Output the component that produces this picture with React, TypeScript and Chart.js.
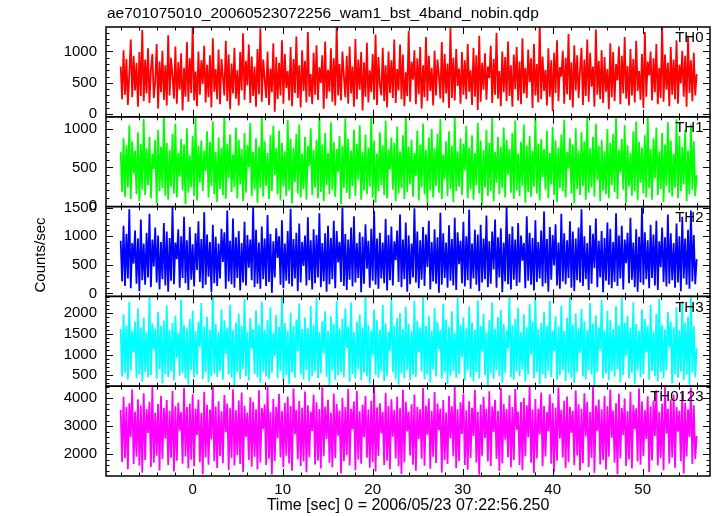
import { useEffect, useRef } from "react";
import { Chart, registerables } from "chart.js";

Chart.register(...registerables);

const TITLE = "ae701075010_20060523072256_wam1_bst_4band_nobin.qdp";
const X_TITLE = "Time [sec] 0 = 2006/05/23 07:22:56.250";
const Y_TITLE = "Counts/sec";
const BANDS = ["TH0", "TH1", "TH2", "TH3", "TH0123"];
const COLORS = ["#ff0000", "#00ff00", "#0000ff", "#00ffff", "#ff00ff"];
const T_START = -8.0;
const T_STEP = 0.16;
const X_MIN = -9.63;
const X_MAX = 57.48;
const X_MAJOR = 10;
const X_MINOR = 2;
const Y_MIN = [-40, -10, -52, 234, 1214];
const Y_MAX = [1390, 1160, 1517, 2411, 4429];
const Y_MAJOR = [500, 500, 500, 500, 1000];
const Y_MINOR = [100, 100, 100, 100, 200];

const TH0 = [
  760, 240, 1020, 310, 880, 150, 640, 1190, 270, 930, 380, 820, 120, 990, 290, 1340,
  210, 870, 330, 1050, 180, 710, 960, 260, 520, 1120, 90, 840, 350, 1010, 230, 780,
  140, 1260, 300, 900, 610, 250, 1080, 170, 830, 390, 970, 60, 740, 280, 1150, 200,
  890, 340, 1400, 220, 680, 130, 1000, 310, 860, 480, 1090, 190, 790, 270, 940, 110,
  1210, 360, 720, 240, 1030, 160, 880, 590, 300, 1170, 210, 950, 80, 810, 330, 1060,
  250, 700, 140, 990, 380, 1290, 230, 850, 460, 1110, 180, 920, 290, 760, 120, 1040,
  320, 1370, 200, 870, 560, 260, 1000, 150, 730, 350, 1130, 40, 910, 240, 820, 300,
  1180, 170, 960, 420, 690, 220, 1070, 130, 880, 340, 1240, 260, 780, 110, 1020, 370,
  850, 190, 1310, 280, 640, 160, 980, 310, 1100, 230, 750, 500, 940, 90, 1160, 250,
  710, 360, 1050, 200, 890, 140, 1420, 300, 800, 220, 1000, 610, 270, 930, 170, 1080,
  330, 760, 120, 1200, 240, 870, 390, 990, 60, 830, 280, 1140, 190, 700, 350, 960,
  230, 1270, 150, 910, 470, 300, 1060, 210, 780, 110, 1000, 340, 860, 260, 1190, 180,
  720, 380, 1110, 240, 950, 130, 670, 290, 1330, 200, 840, 550, 1020, 160, 890, 320,
  1070, 90, 780, 270, 1230, 210, 930, 370, 740, 140, 1010, 300, 870, 620, 250, 1150,
  190, 960, 330, 810, 100, 1380, 260, 900, 220, 1040, 450, 730, 170, 990, 310, 860,
  240, 1120, 360, 700, 150, 1060, 280, 940, 70, 1250, 200, 820, 390, 970, 230, 760,
  580, 1090, 180, 880, 310, 1300, 250, 690, 130, 1000, 350, 910, 210, 1160, 290, 780,
  120, 950, 400, 1070, 220, 840, 160, 1210, 330, 740, 260, 1030, 510, 890, 100, 1120,
  300, 800, 190, 1440, 240, 920, 370, 710, 140, 1050, 280, 860, 50, 980, 340, 1180,
  210, 750, 600, 1010, 170, 900, 320, 1280, 230, 830, 110, 1100, 380, 940, 260, 700,
  1060, 150, 870, 290, 1190, 200, 980, 440, 760, 120, 1350, 310, 850, 240, 1020, 180,
  910, 360, 720, 80, 1130, 270, 990, 210, 800, 540, 1080, 160, 930, 330, 1230, 250,
  770, 140, 1040, 300, 880, 190, 1170, 370, 690, 230, 960, 100, 1310, 280, 840, 620,
  1000, 220, 890, 350, 1120, 160, 740, 260, 1400, 200, 950, 390, 820, 130, 1070, 310,
  870, 240, 1180, 170, 790, 490, 1010, 280, 930, 120, 1250, 340, 860, 210, 980, 300,
  640,
];

const TH1 = [
  700, 180, 880, 120, 790, 240, 1050, 90, 840, 420, 720, 150, 960, 60, 810, 210,
  1130, 140, 750, 270, 900, 100, 680, 480, 860, 30, 990, 190, 770, 230, 1180, 130,
  820, 80, 730, 250, 940, 160, 1070, 110, 690, 380, 870, 200, 800, 20, 1010, 170,
  660, 240, 910, 130, 1150, 70, 780, 300, 850, 190, 720, 450, 970, 110, 830, 260,
  1100, 150, 700, 50, 890, 220, 760, 140, 1200, 90, 810, 360, 930, 180, 670, 240,
  1020, 100, 860, 280, 740, 60, 950, 170, 790, 500, 1080, 130, 700, 210, 880, 40,
  770, 230, 1160, 120, 840, 260, 690, 90, 920, 190, 1040, 400, 750, 150, 980, 70,
  820, 250, 710, 130, 1120, 200, 870, 30, 760, 310, 940, 160, 1060, 110, 680, 220,
  900, 80, 780, 520, 1010, 140, 730, 240, 860, 100, 1190, 180, 800, 60, 950, 270,
  690, 150, 1090, 210, 830, 120, 740, 440, 910, 20, 780, 230, 1140, 170, 870, 90,
  720, 260, 990, 130, 810, 340, 1050, 80, 700, 200, 930, 150, 760, 250, 1170, 110,
  850, 40, 680, 190, 960, 270, 790, 140, 1110, 100, 740, 470, 890, 210, 820, 60,
  1030, 160, 710, 230, 920, 90, 1190, 180, 770, 280, 860, 120, 690, 390, 980, 70,
  800, 240, 1070, 150, 730, 30, 890, 200, 1000, 110, 750, 260, 940, 170, 1130, 90,
  670, 350, 840, 130, 970, 220, 780, 50, 1160, 190, 710, 250, 880, 140, 810, 460,
  1040, 100, 760, 210, 920, 80, 690, 270, 1080, 160, 850, 20, 730, 240, 990, 130,
  820, 190, 1150, 60, 700, 300, 900, 150, 770, 230, 1020, 110, 860, 410, 740, 170,
  950, 90, 1110, 200, 680, 130, 830, 260, 1060, 40, 790, 180, 910, 120, 720, 250,
  1190, 160, 810, 70, 870, 370, 740, 210, 980, 100, 690, 280, 1030, 140, 850, 50,
  760, 230, 930, 190, 1120, 110, 700, 490, 880, 160, 800, 30, 1010, 220, 720, 140,
  960, 260, 840, 80, 1180, 170, 750, 240, 900, 120, 1070, 330, 780, 60, 860, 200,
  710, 150, 1000, 100, 820, 270, 940, 180, 1140, 90, 730, 430, 870, 210, 1050, 40,
  790, 250, 690, 130, 970, 190, 1100, 70, 830, 300, 760, 160, 920, 110, 1170, 230,
  740, 80, 880, 360, 1020, 140, 710, 220, 950, 50, 800, 260, 1090, 170, 850, 120,
  680, 240, 1130, 100, 910, 190, 770, 280, 990, 60, 720, 150, 1060, 210, 840, 130,
  400,
];

const TH2 = [
  920, 210, 1180, 130, 1040, 260, 1470, 90, 880, 520, 1100, 170, 960, 40, 1290, 230,
  870, 150, 1060, 280, 1390, 110, 940, 470, 1150, 190, 1010, 70, 900, 250, 1230, 140,
  1080, 30, 970, 220, 1510, 160, 890, 600, 1120, 100, 1000, 270, 1340, 180, 930, 60,
  1160, 240, 860, 120, 1050, 410, 1260, 200, 950, 90, 1420, 150, 1030, 290, 900, 20,
  1200, 180, 990, 130, 870, 260, 1130, 550, 1070, 80, 1450, 210, 920, 160, 1310, 100,
  980, 270, 1090, 50, 880, 190, 1250, 140, 1020, 450, 940, 230, 1530, 110, 1110, 170,
  890, 80, 1170, 250, 960, 130, 1370, 200, 1040, 10, 910, 280, 1140, 620, 1000, 150,
  1280, 90, 870, 220, 1090, 170, 1480, 120, 950, 260, 1060, 40, 1220, 190, 900, 480,
  1010, 140, 1330, 230, 930, 70, 1120, 180, 1020, 280, 1400, 110, 880, 210, 1050, 30,
  1180, 160, 970, 250, 1270, 90, 1090, 540, 900, 200, 1500, 130, 1040, 60, 940, 240,
  1150, 120, 1350, 190, 880, 270, 1070, 20, 990, 170, 1210, 430, 920, 100, 1130, 220,
  1440, 150, 960, 80, 1060, 260, 890, 180, 1300, 50, 1020, 230, 1170, 140, 910, 580,
  1100, 200, 1380, 110, 940, 250, 1240, 30, 1010, 160, 870, 280, 1490, 190, 1080, 90,
  930, 240, 1160, 130, 1030, 460, 1270, 70, 900, 210, 1120, 170, 980, 10, 1410, 150,
  1050, 270, 890, 100, 1190, 220, 950, 140, 1320, 60, 1070, 510, 920, 180, 1250, 120,
  1000, 230, 1460, 80, 870, 260, 1110, 150, 1030, 40, 1200, 190, 960, 250, 1360, 110,
  910, 170, 1080, 420, 1290, 100, 980, 280, 1140, 20, 890, 210, 1520, 160, 1040, 70,
  1170, 240, 940, 130, 1230, 190, 1010, 570, 880, 90, 1350, 220, 1060, 150, 970, 50,
  1280, 200, 900, 260, 1100, 120, 1430, 180, 950, 30, 1160, 240, 1020, 490, 1210, 140,
  890, 80, 1390, 210, 1050, 160, 930, 270, 1260, 100, 1080, 40, 960, 230, 1150, 190,
  1470, 130, 1000, 250, 880, 60, 1190, 170, 1040, 440, 1310, 110, 920, 280, 1090, 20,
  970, 220, 1240, 150, 1130, 90, 900, 200, 1400, 130, 1010, 260, 1180, 70, 940, 530,
  1060, 180, 1320, 240, 890, 110, 1120, 30, 990, 190, 1500, 150, 1070, 250, 930, 90,
  1200, 270, 1030, 140, 1270, 60, 910, 460, 1150, 200, 980, 120, 1380, 170, 1050, 230,
  880, 100, 1220, 190, 1000, 40, 1340, 260, 960, 150, 1110, 80, 1450, 210, 1020, 160,
  600,
];

const TH3 = [
  1620, 470, 1980, 560, 1710, 390, 2280, 610, 1580, 1050, 1800, 430, 2120, 520, 1660, 340,
  1890, 580, 1540, 450, 2400, 500, 1750, 1120, 1630, 410, 2030, 640, 1690, 300, 1820, 530,
  2190, 460, 1600, 590, 1770, 380, 1950, 920, 1520, 490, 2330, 550, 1720, 420, 1640, 270,
  1860, 620, 2060, 440, 1570, 510, 1790, 1180, 2250, 400, 1680, 570, 1920, 330, 1610, 480,
  2430, 540, 1740, 460, 1550, 600, 2100, 390, 1830, 1010, 1650, 520, 2210, 440, 1590, 250,
  1780, 580, 1990, 410, 1700, 650, 2350, 480, 1560, 370, 1880, 1140, 1620, 530, 2070, 450,
  1730, 320, 2280, 590, 1600, 470, 1840, 400, 2150, 560, 1530, 960, 1960, 430, 1670, 610,
  2410, 380, 1760, 500, 1580, 280, 2020, 570, 1690, 440, 1850, 1080, 2240, 520, 1620, 400,
  1900, 630, 1640, 350, 2180, 480, 1710, 590, 2370, 420, 1560, 540, 1810, 1020, 2050, 460,
  1580, 260, 1930, 610, 1750, 390, 2300, 500, 1630, 570, 1870, 450, 2120, 1160, 1680, 340,
  2260, 530, 1540, 420, 1800, 640, 1970, 380, 1660, 560, 2440, 470, 1720, 300, 1590, 980,
  2090, 510, 1830, 440, 1610, 600, 2200, 360, 1760, 490, 1550, 1100, 2340, 580, 1690, 410,
  1880, 270, 2010, 550, 1620, 430, 2160, 620, 1740, 380, 1570, 520, 2290, 460, 1820, 1060,
  1650, 590, 2420, 400, 1700, 510, 1940, 330, 1580, 640, 2130, 470, 1790, 1130, 1610, 420,
  2230, 560, 1850, 290, 1670, 490, 2050, 600, 1530, 440, 2380, 530, 1720, 940, 1900, 370,
  1640, 610, 2170, 460, 1780, 350, 1600, 580, 2310, 420, 1690, 1070, 1990, 500, 1560, 260,
  1840, 540, 2270, 410, 1630, 620, 1910, 470, 2080, 310, 1740, 560, 1590, 1150, 2400, 450,
  1710, 390, 1870, 590, 2140, 480, 1550, 640, 1980, 340, 1660, 510, 2220, 1000, 1800, 430,
  2360, 570, 1620, 280, 1760, 530, 2040, 420, 1700, 600, 2300, 460, 1580, 1090, 1930, 390,
  1680, 500, 2190, 630, 1570, 360, 1890, 550, 2420, 440, 1730, 310, 2000, 580, 1640, 1040,
  2110, 470, 1810, 400, 1600, 610, 2250, 520, 1750, 250, 1950, 570, 1660, 1120, 2330, 430,
  1590, 540, 2060, 380, 1830, 590, 1620, 470, 2180, 640, 1710, 330, 2390, 500, 1780, 970,
  1940, 420, 1650, 560, 2270, 290, 1740, 610, 1580, 450, 2100, 530, 1860, 1050, 1690, 390,
  2210, 600, 1560, 480, 1990, 350, 2350, 570, 1720, 430, 1610, 620, 2030, 1170, 1800, 300,
  1670, 520, 2150, 440, 1590, 590, 2290, 380, 1770, 510, 1920, 270, 2440, 560, 1700, 460,
  1150,
];

const TH0123 = [
  3580, 1720, 4050, 1850, 3690, 1460, 3820, 2600, 4310, 1640, 3520, 1900, 3960, 1580, 3740, 1330,
  4180, 1780, 3610, 2750, 3870, 1540, 4420, 1690, 3480, 1940, 3790, 1410, 4090, 1820, 3650, 2550,
  3930, 1600, 3550, 1870, 4260, 1380, 3710, 1760, 3840, 2850, 3500, 1650, 4370, 1910, 3680, 1490,
  3800, 1800, 4140, 1560, 3620, 2680, 3950, 1710, 3470, 1280, 4230, 1880, 3760, 1620, 3590, 2520,
  4400, 1740, 3700, 1500, 3890, 1930, 3530, 1670, 4110, 2780, 3810, 1430, 3640, 1850, 4320, 1590,
  3570, 1960, 3920, 1640, 4200, 1360, 3730, 2610, 3490, 1790, 4030, 1550, 3860, 1900, 3600, 1450,
  4280, 1700, 3650, 2900, 3780, 1610, 4440, 1830, 3510, 1270, 3970, 1750, 3690, 2570, 4150, 1880,
  3540, 1520, 3830, 1940, 4060, 1660, 3720, 1400, 4350, 2700, 3580, 1810, 3900, 1570, 3660, 1730,
  4240, 1350, 3750, 1890, 3520, 2830, 4120, 1630, 3850, 1770, 3610, 1480, 4390, 1920, 3700, 2540,
  3940, 1690, 3480, 1530, 4170, 1850, 3790, 2660, 3560, 1300, 4010, 1740, 3680, 1960, 4330, 1590,
  3620, 2880, 3880, 1420, 4260, 1800, 3530, 1650, 3760, 2590, 4080, 1870, 3590, 1510, 3910, 1720,
  4410, 1380, 3670, 1930, 3820, 2740, 3500, 1600, 4190, 1760, 3730, 1460, 3960, 2620, 3580, 1840,
  4050, 1560, 3640, 1290, 4300, 1710, 3870, 2810, 3520, 1950, 3780, 1620, 4130, 1400, 3690, 2530,
  3600, 1830, 4360, 1580, 3740, 2690, 3990, 1470, 3550, 1900, 4220, 1680, 3810, 2860, 3630, 1340,
  3930, 1790, 3490, 1640, 4080, 2560, 3710, 1920, 4420, 1500, 3600, 1750, 3850, 2720, 4160, 1610,
  3570, 1440, 3890, 1860, 3660, 2640, 4290, 1700, 3510, 1260, 3770, 1940, 4040, 2580, 3620, 1730,
  4250, 1570, 3700, 2790, 3940, 1820, 3540, 1390, 4370, 1660, 3800, 2510, 3610, 1890, 4100, 1530,
  3680, 1780, 4330, 2870, 3520, 1610, 3860, 1430, 4010, 1920, 3750, 2600, 4440, 1690, 3590, 1310,
  3970, 1840, 3630, 2700, 4200, 1560, 3720, 1910, 3500, 2820, 4140, 1650, 3830, 1370, 3660, 1760,
  4380, 2550, 3580, 1880, 3910, 1490, 4060, 1720, 3690, 2760, 3540, 1600, 4270, 1950, 3780, 1410,
  3620, 1680, 4180, 2630, 3870, 1540, 3500, 1860, 4400, 1330, 3740, 2840, 3950, 1630, 3600, 1790,
  4090, 1450, 3710, 1900, 4310, 2580, 3560, 1700, 3820, 1280, 4160, 1840, 3650, 2680, 3990, 1570,
  3530, 1810, 4230, 1480, 3760, 2890, 3640, 1730, 4350, 1620, 3880, 1930, 3570, 2540, 4070, 1360,
  3700, 1770, 3920, 2650, 4280, 1590, 3510, 1850, 3800, 1420, 4410, 2730, 3620, 1660, 3960, 1880,
  4130, 1510, 3690, 2800, 3550, 1740, 4240, 1300, 3840, 1910, 3600, 2610, 4370, 1640, 3750, 1820,
  2650,
];

const SERIES = [TH0, TH1, TH2, TH3, TH0123];
const AXIS_IDS = ["y0", "y1", "y2", "y3", "y4"];
const FONT = '"Liberation Sans", Arial, Helvetica, sans-serif';
const FONT_SIZE = 15;

function majorTicks(min: number, max: number, step: number) {
  const out: { value: number }[] = [];
  for (let v = Math.ceil(min / step) * step; v <= max + 1e-9; v += step) {
    out.push({ value: Math.round(v * 1000) / 1000 });
  }
  return out;
}

const qdpPlugin = {
  id: "qdpFrame",
  beforeDatasetDraw(chart: any, args: any) {
    const ys = chart.scales[args.meta.yAxisID];
    const area = chart.chartArea;
    const ctx = chart.ctx;
    ctx.save();
    ctx.beginPath();
    ctx.rect(area.left, ys.top, area.right - area.left, ys.bottom - ys.top);
    ctx.clip();
  },
  afterDatasetDraw(chart: any) {
    chart.ctx.restore();
  },
  afterDraw(chart: any) {
    const ctx = chart.ctx;
    const area = chart.chartArea;
    const xs = chart.scales.x;
    ctx.save();
    ctx.strokeStyle = "#000";
    const seg = (x1: number, y1: number, x2: number, y2: number) => {
      ctx.beginPath();
      ctx.moveTo(x1, y1);
      ctx.lineTo(x2, y2);
      ctx.stroke();
    };
    AXIS_IDS.forEach((id, i) => {
      const ys = chart.scales[id];
      const top = ys.top;
      const bottom = ys.bottom;
      ctx.lineWidth = 1;
      for (let v = Math.ceil(ys.min / Y_MINOR[i]) * Y_MINOR[i]; v <= ys.max; v += Y_MINOR[i]) {
        const r = v / Y_MAJOR[i];
        const major = Math.abs(r - Math.round(r)) < 1e-6;
        const len = major ? 7 : 3.5;
        const py = Math.round(ys.getPixelForValue(v)) + 0.5;
        seg(area.left, py, area.left + len, py);
        seg(area.right - len, py, area.right, py);
      }
      for (let v = Math.ceil(xs.min / X_MINOR) * X_MINOR; v <= xs.max; v += X_MINOR) {
        const r = v / X_MAJOR;
        const major = Math.abs(r - Math.round(r)) < 1e-6;
        const len = major ? 7 : 3.5;
        const px = Math.round(xs.getPixelForValue(v)) + 0.5;
        seg(px, top, px, top + len);
        seg(px, bottom - len, px, bottom);
      }
      ctx.lineWidth = 1.5;
      ctx.strokeRect(area.left, top, area.right - area.left, bottom - top);
      ctx.fillStyle = "#000";
      ctx.font = `${FONT_SIZE}px ${FONT}`;
      ctx.textAlign = "right";
      ctx.textBaseline = "middle";
      ctx.fillText(BANDS[i], area.right - 6.5, top + 11);
    });
    ctx.fillStyle = "#000";
    ctx.textBaseline = "middle";
    ctx.font = `15.5px ${FONT}`;
    ctx.textAlign = "left";
    ctx.fillText(TITLE, area.left + 1, 14);
    ctx.font = `16px ${FONT}`;
    ctx.textAlign = "center";
    ctx.fillText(X_TITLE, (area.left + area.right) / 2, 506);
    ctx.font = `${FONT_SIZE}px ${FONT}`;
    ctx.translate(41, 255);
    ctx.rotate(-Math.PI / 2);
    ctx.fillText(Y_TITLE, 0, 0);
    ctx.restore();
  },
};

export default function App() {
  const ref = useRef<HTMLCanvasElement>(null);
  useEffect(() => {
    if (!ref.current) return;
    const datasets = SERIES.map((vals, i) => ({
      label: BANDS[i],
      data: vals.map((v, k) => ({ x: T_START + k * T_STEP, y: v })),
      yAxisID: AXIS_IDS[i],
      borderColor: COLORS[i],
      backgroundColor: COLORS[i],
      borderWidth: 1.8,
      borderJoinStyle: "bevel" as const,
      pointRadius: 0,
      tension: 0,
      fill: false,
    }));
    const tickFmt = (v: any) => String(v);
    const scales: any = {
      x: {
        type: "linear",
        min: X_MIN,
        max: X_MAX,
        grid: { display: false, drawTicks: false },
        border: { display: false },
        ticks: {
          color: "#000",
          font: { family: FONT, size: FONT_SIZE },
          padding: 5,
          maxRotation: 0,
          autoSkip: false,
          callback: tickFmt,
        },
        afterBuildTicks: (s: any) => {
          s.ticks = majorTicks(X_MIN, X_MAX, X_MAJOR);
        },
        afterFit: (s: any) => {
          s.height = 40;
        },
      },
    };
    for (let i = AXIS_IDS.length - 1; i >= 0; i--) {
      scales[AXIS_IDS[i]] = {
        type: "linear",
        position: "left",
        stack: "panels",
        stackWeight: 1,
        offset: false,
        min: Y_MIN[i],
        max: Y_MAX[i],
        grid: { display: false, drawTicks: false },
        border: { display: false },
        ticks: {
          color: "#000",
          font: { family: FONT, size: FONT_SIZE },
          padding: 9,
          autoSkip: false,
          callback: tickFmt,
        },
        afterBuildTicks: (s: any) => {
          s.ticks = majorTicks(Y_MIN[i], Y_MAX[i], Y_MAJOR[i]);
        },
        afterFit: (s: any) => {
          s.width = 106;
        },
      };
    }
    const chart = new Chart(ref.current, {
      type: "line",
      data: { datasets },
      options: {
        responsive: false,
        animation: false,
        layout: { padding: { top: 27, right: 7, left: 0, bottom: 0 } },
        plugins: {
          legend: { display: false },
          title: { display: false },
          tooltip: { enabled: false },
        },
        scales,
      },
      plugins: [qdpPlugin],
    } as any);
    return () => chart.destroy();
  }, []);
  return (
    <div style={{ position: "fixed", left: 0, top: 0, width: 717, height: 516, background: "#fff" }}>
      <canvas ref={ref} width={717} height={516} style={{ display: "block", width: 717, height: 516 }} />
    </div>
  );
}
